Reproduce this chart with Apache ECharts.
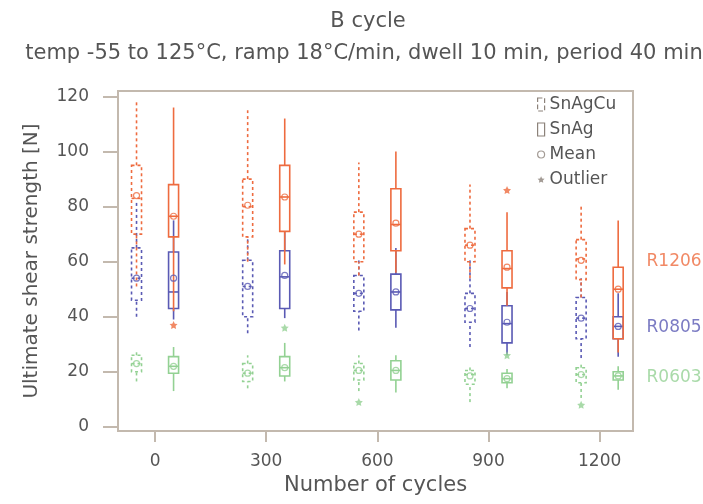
<!DOCTYPE html>
<html>
<head>
<meta charset="utf-8">
<title>B cycle</title>
<script src="https://cdn.jsdelivr.net/npm/echarts@6.0.0/dist/echarts.min.js"></script>
<style>
  html, body { margin: 0; padding: 0; background: #fff; }
  #chart { width: 703px; height: 504px; }
</style>
</head>
<body>
<div id="chart"></div>
<script>
const cycles = [0, 300, 600, 900, 1200];
const sizeNames = ['R1206', 'R0805', 'R0603'];
const sizeLabelY = [60, 36, 18];
const yTicks = [0, 20, 40, 60, 80, 100, 120];

// box rows per cycle: [low whisker, Q1, median, Q3, high whisker]
const snAgCuR1206 = [[51, 70, 83, 95, 118], [60, 69, 80, 90, 115], [55, 60, 70, 78, 96], [54, 60, 66, 72, 88], [47, 53.5, 61, 68, 80]];
const snAgCuR0805 = [[40, 46, 54, 65, 82], [34, 40, 51, 60.5, 69], [35, 42, 48.5, 55, 61], [29, 38, 43, 48.5, 61], [25, 32, 39.5, 47, 54]];
const snAgCuR0603 = [[16.5, 20, 23, 26, 27.5], [14, 16.5, 19.5, 23, 26], [13, 17, 20.5, 23, 26], [9, 15.5, 19, 20.5, 22], [10.5, 16, 19, 21.5, 23]];
const snAgR1206 = [[42, 69, 76.5, 88, 116], [59, 71, 83.5, 95, 112], [56, 64, 73.5, 86.5, 100], [44, 50.5, 57.5, 64, 78], [27, 32, 50, 58, 75]];
const snAgR0805 = [[39, 43, 49, 63.5, 75], [39.5, 43, 54.5, 64, 71], [36, 42.5, 49, 55.5, 65], [26, 30.5, 37.5, 44, 49], [25.5, 32, 36.5, 40, 48.5]];
const snAgR0603 = [[13, 19.5, 22, 25.5, 29], [16.5, 18.5, 21.5, 25.5, 30.5], [12.5, 17, 20.5, 24, 26], [14, 16, 17.5, 19.5, 21], [13.5, 17, 18.5, 20, 22]];

// means per cycle
const snAgCuMeanR1206 = [84, 80.5, 70, 66, 60.5];
const snAgCuMeanR0805 = [54, 51, 48.5, 43, 39.5];
const snAgCuMeanR0603 = [23, 19.5, 20.5, 18.5, 19];
const snAgMeanR1206 = [76.5, 83.5, 74, 58, 50];
const snAgMeanR0805 = [54, 55, 49, 38, 36.5];
const snAgMeanR0603 = [22, 21.5, 20.5, 17.5, 18.5];

// outliers: [cycle, value]
const snAgCuOutR1206 = [];
const snAgCuOutR0805 = [];
const snAgCuOutR0603 = [[600, 9], [1200, 8]];
const snAgOutR1206 = [[0, 37], [900, 86]];
const snAgOutR0805 = [];
const snAgOutR0603 = [[300, 36], [900, 26]];

const colors = ['#ee6b3f', '#5a5ab4', '#93d193'];
const frameColor = '#c3b9ae';
const textColor = '#555';
const legendColor = '#8c827a';
const font = 'DejaVu Sans';
const shift = 50; // SnAgCu left of the tick, SnAg right of it
const starPath = 'path://M0,-10L2.9,-4L9.5,-3.1L4.7,1.5L5.9,8.1L0,5L-5.9,8.1L-4.7,1.5L-9.5,-3.1L-2.9,-4Z';

function boxSeries(name, rows, color, dx, dashed) {
    return {
        name: name,
        type: 'custom',
        silent: true,
        encode: { x: 0, y: [1, 2, 3, 4, 5] },
        data: rows.map((r, i) => [cycles[i] + dx].concat(r)),
        renderItem: function (params, api) {
            const x = api.value(0);
            const lo = api.coord([x, api.value(1)]);
            const q1 = api.coord([x, api.value(2)]);
            const med = api.coord([x, api.value(3)]);
            const q3 = api.coord([x, api.value(4)]);
            const hi = api.coord([x, api.value(5)]);
            const hw = 5;
            const style = {
                stroke: color,
                fill: null,
                lineWidth: 1.6,
                lineDash: dashed ? [3, 3] : null
            };
            return {
                type: 'group',
                children: [
                    { type: 'line', shape: { x1: lo[0], y1: lo[1], x2: lo[0], y2: q1[1] }, style: style },
                    { type: 'line', shape: { x1: hi[0], y1: q3[1], x2: hi[0], y2: hi[1] }, style: style },
                    { type: 'rect', shape: { x: q3[0] - hw, y: q3[1], width: hw * 2, height: q1[1] - q3[1] }, style: style },
                    { type: 'line', shape: { x1: med[0] - hw, y1: med[1], x2: med[0] + hw, y2: med[1] }, style: style }
                ]
            };
        }
    };
}

function meanSeries(means, color, dx) {
    return {
        name: 'Mean',
        type: 'scatter',
        silent: true,
        symbol: 'circle',
        symbolSize: 6,
        itemStyle: { color: 'transparent', borderColor: color, borderWidth: 1.2 },
        data: means.map((m, i) => [cycles[i] + dx, m])
    };
}

function outlierSeries(points, color, dx) {
    return {
        name: 'Outlier',
        type: 'scatter',
        silent: true,
        symbol: starPath,
        symbolSize: 8,
        itemStyle: { color: color },
        data: points.map(p => [p[0] + dx, p[1]])
    };
}

const boxSets = [
    ['SnAgCu', [snAgCuR0603, snAgCuR0805, snAgCuR1206], -shift, true],
    ['SnAg', [snAgR0603, snAgR0805, snAgR1206], shift, false]
];
const meanSets = [
    [[snAgCuMeanR0603, snAgCuMeanR0805, snAgCuMeanR1206], -shift],
    [[snAgMeanR0603, snAgMeanR0805, snAgMeanR1206], shift]
];
const outSets = [
    [[snAgCuOutR0603, snAgCuOutR0805, snAgCuOutR1206], -shift],
    [[snAgOutR0603, snAgOutR0805, snAgOutR1206], shift]
];
const drawColors = [colors[2], colors[1], colors[0]];

const series = [];
boxSets.forEach(s => s[1].forEach((rows, k) => series.push(boxSeries(s[0], rows, drawColors[k], s[2], s[3]))));
meanSets.forEach(s => s[0].forEach((m, k) => series.push(meanSeries(m, drawColors[k], s[1]))));
outSets.forEach(s => s[0].forEach((p, k) => series.push(outlierSeries(p, drawColors[k], s[1]))));

// size labels at the right side of the frame
series.push({
    name: 'sizes',
    type: 'scatter',
    silent: true,
    clip: false,
    symbolSize: 1,
    itemStyle: { color: 'transparent' },
    label: {
        show: true,
        position: 'right',
        distance: 13,
        formatter: '{b}',
        fontFamily: font,
        fontSize: 17
    },
    data: sizeNames.map((n, i) => ({ name: n, value: [1290, sizeLabelY[i]], label: { color: colors[i] } }))
});

const chart = echarts.init(document.getElementById('chart'), null, { renderer: 'canvas' });
chart.setOption({
    animation: false,
    backgroundColor: '#fff',
    title: [
        {
            text: 'B cycle',
            left: 368,
            top: 11,
            padding: 0,
            textAlign: 'center',
            textStyle: { fontFamily: font, fontSize: 21, fontWeight: 'normal', color: textColor }
        },
        {
            text: 'temp -55 to 125°C, ramp 18°C/min, dwell 10 min, period 40 min',
            left: 364,
            top: 43,
            padding: 0,
            textAlign: 'center',
            textStyle: { fontFamily: font, fontSize: 21, fontWeight: 'normal', color: textColor }
        }
    ],
    legend: {
        orient: 'vertical',
        left: 537,
        top: 96,
        padding: 0,
        itemGap: 8,
        itemWidth: 7,
        itemHeight: 13,
        selectedMode: false,
        textStyle: { fontFamily: font, fontSize: 17, color: textColor },
        data: [
            { name: 'SnAgCu', icon: 'rect', itemStyle: { color: '#fff', borderColor: legendColor, borderWidth: 1.2, borderType: 'dashed' } },
            { name: 'SnAg', icon: 'rect', itemStyle: { color: '#fff', borderColor: legendColor, borderWidth: 1.2, borderType: 'solid' } },
            { name: 'Mean', icon: 'circle', itemStyle: { color: '#fff', borderColor: legendColor, borderWidth: 1.2 } },
            { name: 'Outlier', icon: starPath, itemStyle: { color: legendColor, borderWidth: 0 } }
        ]
    },
    grid: {
        left: 118,
        right: 70,
        top: 91,
        bottom: 73,
        show: true,
        borderColor: frameColor,
        borderWidth: 2,
        backgroundColor: 'transparent'
    },
    xAxis: {
        type: 'value',
        min: -100,
        max: 1290,
        name: 'Number of cycles',
        nameLocation: 'middle',
        nameGap: 44,
        nameTextStyle: { fontFamily: font, fontSize: 21, color: textColor },
        axisLine: { show: false, onZero: false },
        splitLine: { show: false },
        axisTick: {
            show: true,
            length: 11,
            customValues: cycles,
            lineStyle: { color: frameColor, width: 2 }
        },
        axisLabel: {
            customValues: cycles,
            margin: 22,
            fontFamily: font,
            fontSize: 17,
            color: textColor,
            formatter: v => String(v)
        }
    },
    yAxis: {
        type: 'value',
        min: -1.5,
        max: 122,
        name: 'Ultimate shear strength [N]',
        nameLocation: 'middle',
        nameGap: 76,
        nameTextStyle: { fontFamily: font, fontSize: 20, color: textColor },
        axisLine: { show: false, onZero: false },
        splitLine: { show: false },
        axisTick: {
            show: true,
            length: 15,
            customValues: yTicks,
            lineStyle: { color: frameColor, width: 2 }
        },
        axisLabel: {
            customValues: yTicks,
            margin: 29,
            fontFamily: font,
            fontSize: 17,
            color: textColor,
            formatter: v => String(v)
        }
    },
    series: series
});
</script>
</body>
</html>
